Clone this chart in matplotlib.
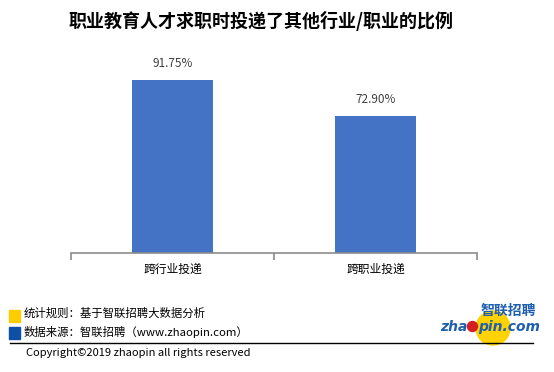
import matplotlib
matplotlib.use("Agg")
import matplotlib.pyplot as plt
from matplotlib.patches import Rectangle, Circle
from matplotlib.lines import Line2D

plt.rcParams['font.family'] = ['Noto Sans CJK SC', 'DejaVu Sans']

categories = ["跨行业投递", "跨职业投递"]
values = [91.75, 72.90]
value_labels = ["91.75%", "72.90%"]
title = "职业教育人才求职时投递了其他行业/职业的比例"

W, H = 554, 372
fig = plt.figure(figsize=(W / 100, H / 100), dpi=100)

def fx(x):
    return x / W

def fy(y):
    return 1 - y / H

# axes: x 71..477, baseline y 253, 100% -> 188.6 px
ax_left, ax_right, ax_base = 71, 477, 253
ax_h = 188.6
ax = fig.add_axes([fx(ax_left), fy(ax_base), (ax_right - ax_left) / W, ax_h / H])
x = list(range(len(categories)))
ax.bar(x, values, width=0.4, color="#4472C4")
ax.set_xlim(-0.5, len(categories) - 0.5)
ax.set_ylim(0, 100)
for xi, v, lab in zip(x, values, value_labels):
    ax.annotate(lab, (xi, v), xytext=(0, 7), textcoords="offset points",
                ha="center", va="bottom", fontsize=8.5, color="#404040")
for s in ["top", "left", "right"]:
    ax.spines[s].set_visible(False)
ax.spines["bottom"].set_color("#8c8c8c")
ax.spines["bottom"].set_linewidth(1.2)
ax.set_yticks([])
ax.set_xticks([-0.5, 0.5, 1.5], minor=False)
ax.set_xticklabels([])
ax.tick_params(axis="x", length=5, width=1.2, color="#8c8c8c")
ax.set_xticks(x, minor=True)
ax.set_xticklabels(categories, minor=True, fontsize=8.5)
ax.tick_params(axis="x", which="minor", length=0, pad=7)

# title
fig.text(fx(261), fy(21), title, ha="center", va="center", fontsize=13,
         fontweight="bold", color="#000000")

# footer
fig.patches.append(Rectangle((fx(9), fy(322)), 11 / W, 12 / H, transform=fig.transFigure,
                             color="#FFCC00", zorder=2))
fig.patches.append(Rectangle((fx(9), fy(339)), 11 / W, 12 / H, transform=fig.transFigure,
                             color="#0F4FA8", zorder=2))
fig.text(fx(24), fy(313), "统计规则：基于智联招聘大数据分析", ha="left", va="center",
         fontsize=8.2, color="#000000")
fig.text(fx(24), fy(332), "数据来源：智联招聘（www.zhaopin.com）", ha="left", va="center",
         fontsize=8.2, color="#000000")
fig.lines.append(Line2D([fx(10), fx(533)], [fy(343), fy(343)], transform=fig.transFigure,
                        color="#000000", linewidth=1))
fig.text(fx(26), fy(353), "Copyright©2019 zhaopin all rights reserved", ha="left",
         va="center", fontsize=8, color="#000000")

# logo approximation
pt = fig.dpi_scale_trans
fig.patches.append(Circle((493 / 100, (H - 328) / 100), 0.17, transform=pt,
                          color="#FFD200", zorder=1))
fig.text(fx(508), fy(311), "智联招聘", ha="center", va="center", fontsize=10,
         fontweight="bold", color="#1F5FAF", style="italic", zorder=3)
fig.text(fx(467), fy(327), "zha", ha="right", va="center", fontsize=10,
         fontweight="bold", color="#1F5FAF", style="italic", family="DejaVu Sans", zorder=3)
fig.text(fx(478), fy(327), "pin.com", ha="left", va="center", fontsize=10,
         fontweight="bold", color="#1F5FAF", style="italic", family="DejaVu Sans", zorder=3)
fig.patches.append(Circle((472.5 / 100, (H - 326.5) / 100), 0.05, transform=pt,
                          color="#D42020", zorder=4))

fig.savefig("out.png", dpi=100)
